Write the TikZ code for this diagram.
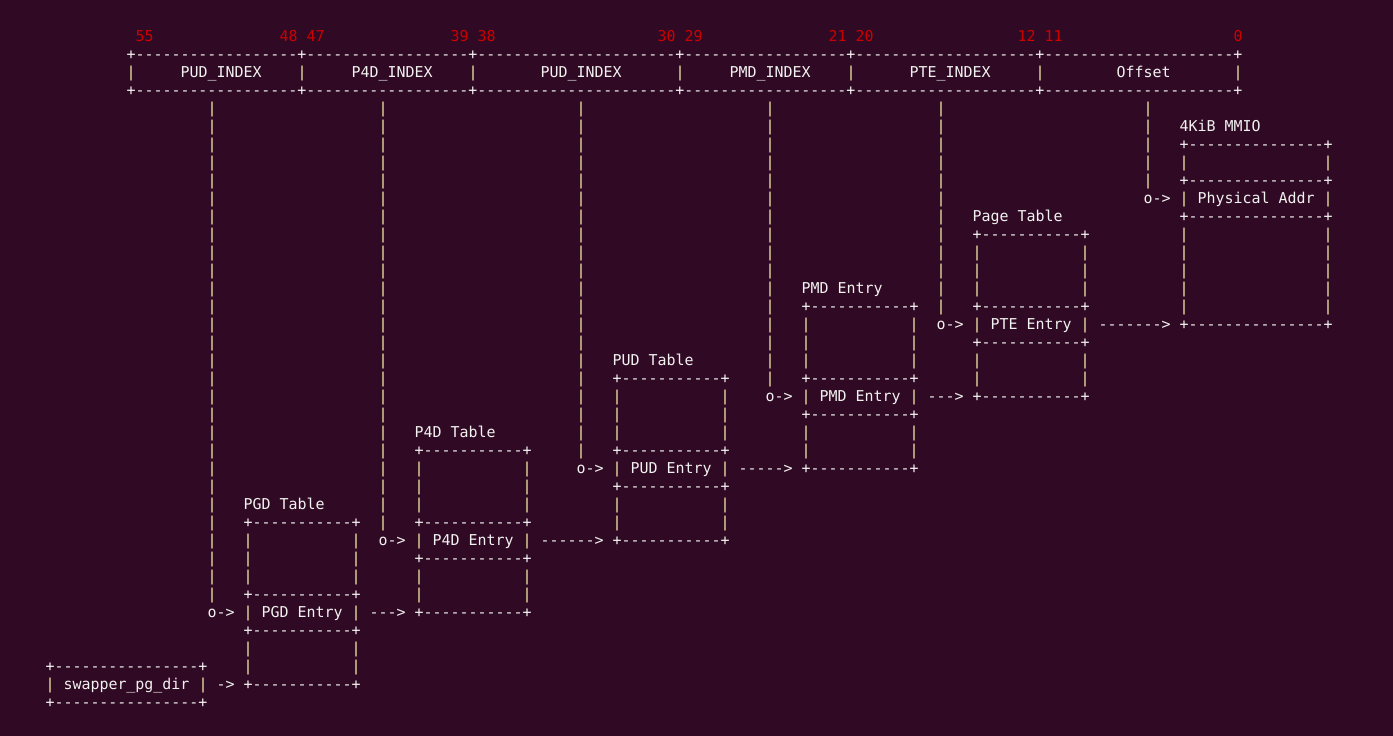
\documentclass[tikz,border=0pt]{standalone}
\usepackage{fontspec}
\setmonofont{DejaVu Sans Mono}
\ExplSyntaxOn
\cs_new:Npn \myrep #1#2 { \prg_replicate:nn {#1} {#2} }
\ExplSyntaxOff
\definecolor{bg}{HTML}{300A24}
\definecolor{fg}{HTML}{F2F2F0}
\definecolor{numred}{HTML}{CC0000}
\definecolor{pipecol}{HTML}{F6ECA8}
\tikzset{
  txt/.style={inner sep=0pt, outer sep=0pt, anchor=base west, text=fg,
    font=\ttfamily\fontsize{14.95}{18}\selectfont},
  num/.style={txt, text=numred},
  pipe/.style={txt, text=pipecol},
}
% \T[style]{name}{col}{row}{text}
\newcommand\T[5][txt]{\node[#1] (#2) at ({45.5+9*(#3)},{41.5+18*(#4)}) {#5};}
% \tablebox{name}{col}{labelrow}{label}{entry}{innerwidth}{rows above}{rows below}
\newcommand\tablebox[8]{%
  \pgfmathtruncatemacro\tbTop{#3+1}%
  \pgfmathtruncatemacro\tbPa{#3+2}%
  \pgfmathtruncatemacro\tbPb{#3+1+#7}%
  \pgfmathtruncatemacro\tbBa{#3+2+#7}%
  \pgfmathtruncatemacro\tbEn{#3+3+#7}%
  \pgfmathtruncatemacro\tbBb{#3+4+#7}%
  \pgfmathtruncatemacro\tbPc{#3+5+#7}%
  \pgfmathtruncatemacro\tbPd{#3+4+#7+#8}%
  \pgfmathtruncatemacro\tbBot{#3+5+#7+#8}%
  \pgfmathtruncatemacro\tbRc{#2+#6+1}%
  \T{#1-label}{#2}{#3}{#4}
  \T{#1-top}{#2}{\tbTop}{+\myrep{#6}{-}+}
  \foreach \r in {\tbPa,...,\tbPb} {\T[pipe]{#1-l\r}{#2}{\r}{|}\T[pipe]{#1-r\r}{\tbRc}{\r}{|}}
  \T{#1-ba}{#2}{\tbBa}{+\myrep{#6}{-}+}
  \T[pipe]{#1-el}{#2}{\tbEn}{|}
  \T{#1-entry}{#2+2}{\tbEn}{#5}
  \T[pipe]{#1-er}{\tbRc}{\tbEn}{|}
  \T{#1-bb}{#2}{\tbBb}{+\myrep{#6}{-}+}
  \foreach \r in {\tbPc,...,\tbPd} {\T[pipe]{#1-l\r}{#2}{\r}{|}\T[pipe]{#1-r\r}{\tbRc}{\r}{|}}
  \T{#1-bot}{#2}{\tbBot}{+\myrep{#6}{-}+}
}
\begin{document}
\begin{tikzpicture}[x=1pt,y=-1pt]
\fill[bg] (0,0) rectangle (1393,736);
\useasboundingbox (0,0) rectangle (1393,736);
% bit numbers
\T[num]{n55}{10}{0}{55}
\T[num]{n48}{26}{0}{48}
\T[num]{n47}{29}{0}{47}
\T[num]{n39}{45}{0}{39}
\T[num]{n38}{48}{0}{38}
\T[num]{n30}{68}{0}{30}
\T[num]{n29}{71}{0}{29}
\T[num]{n21}{87}{0}{21}
\T[num]{n20}{90}{0}{20}
\T[num]{n12}{108}{0}{12}
\T[num]{n11}{111}{0}{11}
\T[num]{n0}{132}{0}{0}
% header
\T{hdrtop}{9}{1}{+\myrep{18}{-}+\myrep{18}{-}+\myrep{22}{-}+\myrep{18}{-}+\myrep{20}{-}+\myrep{21}{-}+}
\T{hdrbot}{9}{3}{+\myrep{18}{-}+\myrep{18}{-}+\myrep{22}{-}+\myrep{18}{-}+\myrep{20}{-}+\myrep{21}{-}+}
\foreach \c in {9,28,47,70,89,110,132} {\T[pipe]{h\c}{\c}{2}{|}}
\T{f1}{15}{2}{PUD\_INDEX}
\T{f2}{34}{2}{P4D\_INDEX}
\T{f3}{55}{2}{PUD\_INDEX}
\T{f4}{76}{2}{PMD\_INDEX}
\T{f5}{96}{2}{PTE\_INDEX}
\T{f6}{119}{2}{Offset}
% vertical index lines
\foreach \c/\last in {18/31,37/27,59/23,80/19,99/15,122/8} {
  \foreach \r in {4,...,\last} {\T[pipe]{v\c-\r}{\c}{\r}{|}}
  \pgfmathtruncatemacro\orow{\last+1}
  \T{o\c}{\c}{\orow}{o->}
}
% tables
\tablebox{pgd}{22}{26}{PGD Table}{PGD Entry}{11}{3}{2}
\tablebox{p4d}{41}{22}{P4D Table}{P4D Entry}{11}{3}{2}
\tablebox{pud}{63}{18}{PUD Table}{PUD Entry}{11}{3}{2}
\tablebox{pmd}{84}{14}{PMD Entry}{PMD Entry}{11}{3}{2}
\tablebox{pte}{103}{10}{Page Table}{PTE Entry}{11}{3}{2}
\tablebox{phys}{126}{5}{4KiB MMIO}{Physical Addr}{15}{1}{5}
% swapper_pg_dir
\T{swtop}{0}{35}{+\myrep{16}{-}+}
\T[pipe]{swl}{0}{36}{|}
\T{sw}{2}{36}{swapper\_pg\_dir}
\T[pipe]{swr}{17}{36}{|}
\T{swbot}{0}{37}{+\myrep{16}{-}+}
% arrows
\T{a0}{19}{36}{->}
\T{a1}{36}{32}{--->}
\T{a2}{55}{28}{------>}
\T{a3}{77}{24}{----->}
\T{a4}{98}{20}{--->}
\T{a5}{117}{16}{------->}
\end{tikzpicture}
\end{document}
